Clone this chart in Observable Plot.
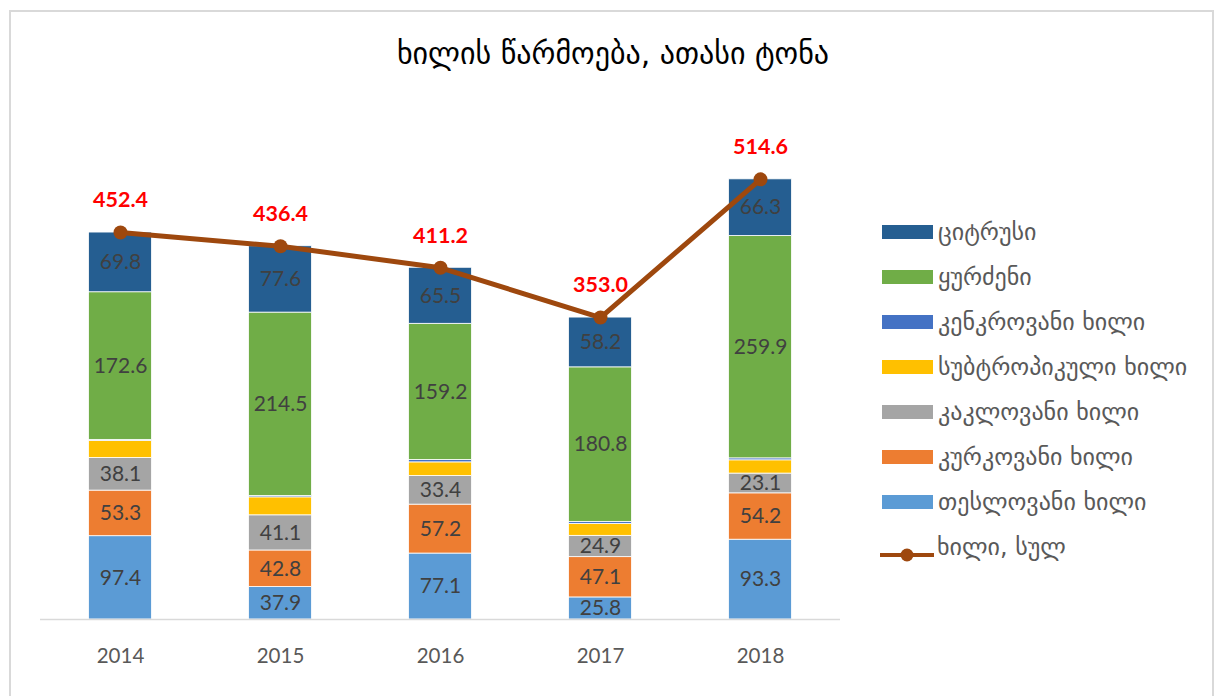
<!DOCTYPE html>
<html>
<head>
<meta charset="utf-8">
<script src="https://cdn.jsdelivr.net/npm/d3@7"></script>
<script src="https://cdn.jsdelivr.net/npm/@observablehq/plot@0.6"></script>
<style>
  html, body { margin: 0; padding: 0; background: #fff; }
  body { width: 1217px; height: 696px; position: relative; overflow: hidden; }
  #frame { position: absolute; left: 9px; top: 10px; width: 1205px; height: 720px; border: 2px solid #d9d9d9; box-sizing: border-box; }
  #title { position: absolute; left: 0; top: 34px; width: 1226px; text-align: center; font-family: "DejaVu Sans", sans-serif; font-size: 30px; line-height: 40px; color: #000; z-index: 2; }
  #chart { position: absolute; left: 0; top: 0; }
  #legend { position: absolute; left: 882px; top: 0; font-family: "DejaVu Sans", sans-serif; font-size: 24px; color: #595959; z-index: 2; }
  .row { position: absolute; left: 0; height: 28px; white-space: nowrap; display: flex; align-items: center; }
  .sw { width: 51px; height: 14px; margin-right: 5px; flex: none; }
  .ln { width: 54px; height: 14px; margin-right: 3px; flex: none; position: relative; }
</style>
</head>
<body>
<div id="frame"></div>
<div id="title"></div>
<div id="chart"></div>
<div id="legend"></div>
<script>
const title = "ხილის წარმოება, ათასი ტონა";
const years = ["2014", "2015", "2016", "2017", "2018"];
const seriesNames = ["თესლოვანი ხილი", "კურკოვანი ხილი", "კაკლოვანი ხილი", "სუბტროპიკული ხილი", "კენკროვანი ხილი", "ყურძენი", "ციტრუსი"];
const seriesColors = ["#5B9BD5", "#ED7D31", "#A5A5A5", "#FFC000", "#4472C4", "#70AD47", "#255E91"];
const seedFruit = [97.4, 37.9, 77.1, 25.8, 93.3];
const stoneFruit = [53.3, 42.8, 57.2, 47.1, 54.2];
const nutFruit = [38.1, 41.1, 33.4, 24.9, 23.1];
const subtropicalFruit = [20.0, 21.0, 16.0, 14.0, 15.5];
const berryFruit = [1.2, 1.5, 2.8, 2.2, 2.3];
const grapes = [172.6, 214.5, 159.2, 180.8, 259.9];
const citrus = [69.8, 77.6, 65.5, 58.2, 66.3];
const totalName = "ხილი, სულ";
const totals = [452.4, 436.4, 411.2, 353.0, 514.6];
const labelledSeries = ["თესლოვანი ხილი", "კურკოვანი ხილი", "კაკლოვანი ხილი", "ყურძენი", "ციტრუსი"];

const seriesValues = [seedFruit, stoneFruit, nutFruit, subtropicalFruit, berryFruit, grapes, citrus];
const table = [];
seriesNames.forEach((s, i) => years.forEach((y, j) => table.push({series: s, year: y, value: seriesValues[i][j]})));
const totalRows = years.map((y, j) => ({year: y, total: totals[j]}));

document.getElementById("title").textContent = title;

const numFont = "Lato, 'Open Sans', sans-serif";
const chart = Plot.plot({
  width: 1217,
  height: 696,
  marginLeft: 40,
  marginRight: 377,
  marginTop: 105.8,
  marginBottom: 77,
  style: {background: "transparent", fontFamily: numFont},
  x: {domain: years, padding: 0, axis: null},
  y: {domain: [0, 600], axis: null},
  color: {domain: seriesNames, range: seriesColors},
  marks: [
    Plot.barY(table, {x: "year", y: "value", fill: "series", stroke: "white", strokeWidth: 0.8, insetLeft: 48.5, insetRight: 48.5}),
    Plot.ruleY([0], {stroke: "#d9d9d9", strokeWidth: 1.5}),
    Plot.axisX({tickSize: 0, tickPadding: 29, fontSize: 20.5, color: "#595959", fontFamily: numFont, label: null}),
    Plot.text(table, Plot.stackY({x: "year", y: "value", z: "series", text: d => labelledSeries.includes(d.series) ? d.value.toFixed(1) : "", fill: "#404040", fontSize: 21, fontFamily: numFont})),
    Plot.line(totalRows, {x: "year", y: "total", stroke: "#9E480E", strokeWidth: 5}),
    Plot.dot(totalRows, {x: "year", y: "total", r: 7, fill: "#9E480E"}),
    Plot.text(totalRows, {x: "year", y: "total", text: d => d.total.toFixed(1), dy: -32, fill: "#FF0000", fontWeight: "bold", fontSize: 21.5, fontFamily: numFont})
  ]
});
document.getElementById("chart").appendChild(chart);

// legend
const legend = document.getElementById("legend");
const order = ["ციტრუსი", "ყურძენი", "კენკროვანი ხილი", "სუბტროპიკული ხილი", "კაკლოვანი ხილი", "კურკოვანი ხილი", "თესლოვანი ხილი"];
order.forEach((name, k) => {
  const row = document.createElement("div");
  row.className = "row";
  row.style.top = (232 + 45 * k - 14) + "px";
  const sw = document.createElement("div");
  sw.className = "sw";
  sw.style.background = seriesColors[seriesNames.indexOf(name)];
  row.appendChild(sw);
  const t = document.createElement("span");
  t.textContent = name;
  row.appendChild(t);
  legend.appendChild(row);
});
{
  const row = document.createElement("div");
  row.className = "row";
  row.style.top = (232 + 45 * 7 - 14) + "px";
  row.style.left = "-2px";
  const ln = document.createElement("div");
  ln.className = "ln";
  ln.innerHTML = '<svg width="54" height="14"><line x1="0" y1="7" x2="54" y2="7" stroke="#9E480E" stroke-width="4"/><circle cx="27" cy="7" r="6.5" fill="#9E480E"/></svg>';
  row.appendChild(ln);
  const t = document.createElement("span");
  t.textContent = totalName;
  row.appendChild(t);
  legend.appendChild(row);
}
</script>
</body>
</html>
